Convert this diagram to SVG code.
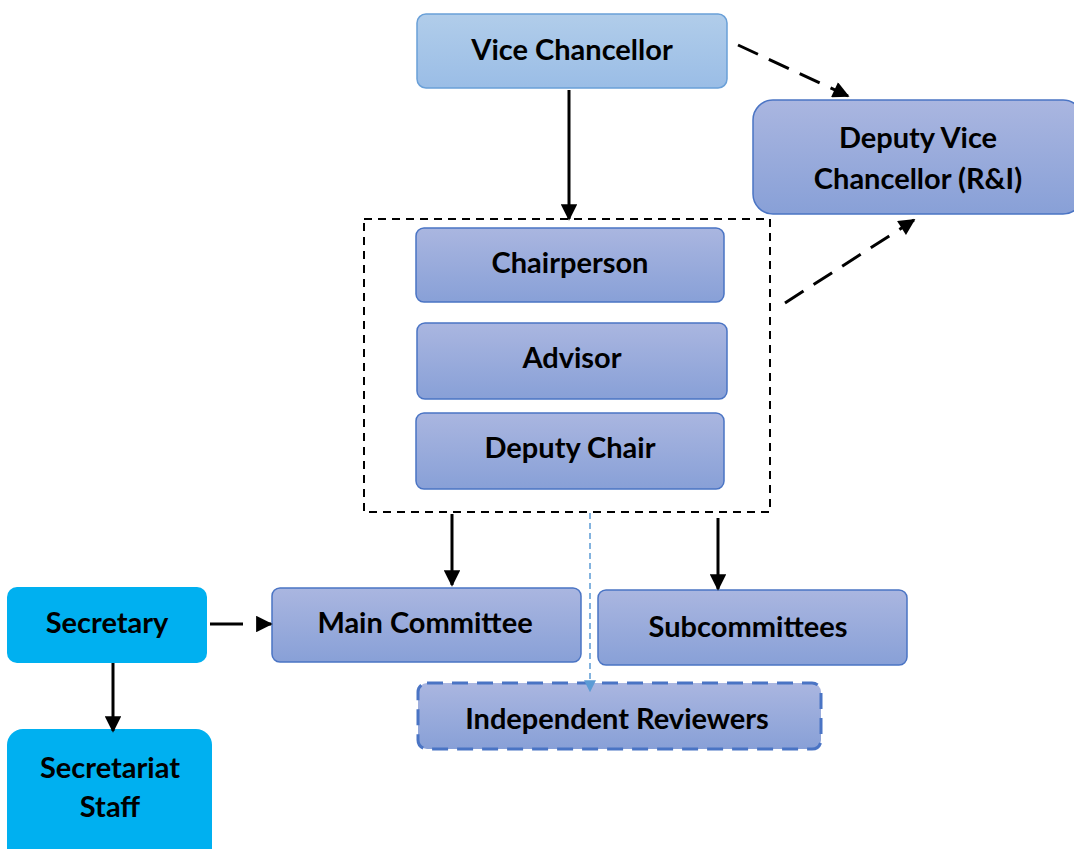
<svg xmlns="http://www.w3.org/2000/svg" width="1074" height="849" viewBox="0 0 1074 849">
<defs>
<linearGradient id="gVC" x1="0" y1="0" x2="0" y2="1"><stop offset="0" stop-color="#b1cdea"/><stop offset="1" stop-color="#9abde6"/></linearGradient>
<linearGradient id="gB" x1="0" y1="0" x2="0" y2="1"><stop offset="0" stop-color="#aab6e0"/><stop offset="1" stop-color="#88a0d7"/></linearGradient>
<marker id="ah" viewBox="0 0 10 10" refX="9" refY="5" markerWidth="6" markerHeight="5.5" orient="auto" markerUnits="strokeWidth"><path d="M0,0 L10,5 L0,10 z" fill="#000"/></marker>
<marker id="ahb" viewBox="0 0 10 10" refX="9" refY="5" markerWidth="8" markerHeight="8" orient="auto" markerUnits="strokeWidth"><path d="M0,0 L10,5 L0,10 z" fill="#5b9bd5"/></marker>
</defs>
<style>
text{font-family:"Lato","Liberation Sans",sans-serif;font-weight:bold;font-size:29px;fill:#000;text-anchor:middle}
.b{fill:url(#gB);stroke:#4a74c4;stroke-width:1.5}
.sec{fill:#00b0f0;stroke:none}
.c{stroke:#000;stroke-width:3;fill:none;marker-end:url(#ah)}
.cd{stroke:#000;stroke-width:3;fill:none;stroke-dasharray:22 12;marker-end:url(#ah)}
</style>
<g id="vice-chancellor"><rect x="417" y="14" width="310" height="74" rx="9" fill="url(#gVC)" stroke="#6aa0d8" stroke-width="1.5"/><text x="572" y="60">Vice Chancellor</text></g>
<g id="dvc"><rect x="753" y="100" width="330" height="114" rx="20" class="b"/><text x="918" y="148">Deputy Vice</text><text x="918" y="189">Chancellor (R&amp;I)</text></g>
<g id="group"><rect x="364" y="219" width="406" height="293" fill="none" stroke="#000" stroke-width="2" stroke-dasharray="8 6"/></g>
<g id="chairperson"><rect x="416" y="228" width="308" height="74" rx="8" class="b"/><text x="570" y="273">Chairperson</text></g>
<g id="advisor"><rect x="417" y="323" width="310" height="76" rx="8" class="b"/><text x="572" y="368">Advisor</text></g>
<g id="deputy-chair"><rect x="416" y="413" width="308" height="76" rx="8" class="b"/><text x="570" y="458">Deputy Chair</text></g>
<g id="main-committee"><rect x="272" y="588" width="309" height="74" rx="8" class="b"/><text x="425" y="633">Main Committee</text></g>
<g id="subcommittees"><rect x="598" y="590" width="309" height="75" rx="8" class="b"/><text x="748" y="637">Subcommittees</text></g>
<g id="independent-reviewers"><rect x="418" y="683" width="403" height="66" rx="9" fill="url(#gB)" stroke="#4a74c4" stroke-width="3" stroke-dasharray="16 9"/><text x="617" y="729">Independent Reviewers</text></g>
<g id="secretary"><rect x="7" y="587" width="200" height="76" rx="10" class="sec"/><text x="107" y="633">Secretary</text></g>
<g id="secretariat-staff"><rect x="7" y="729" width="205" height="140" rx="16" class="sec"/><text x="110" y="778">Secretariat</text><text x="110" y="817">Staff</text></g>
<g id="connectors">
<line x1="569" y1="90" x2="569" y2="219" class="c"/>
<line x1="738" y1="45" x2="848" y2="96" class="cd"/>
<line x1="785" y1="303" x2="914" y2="220" class="cd"/>
<line x1="452" y1="514" x2="452" y2="585" class="c"/>
<line x1="718" y1="518" x2="718" y2="589" class="c"/>
<line x1="590" y1="513" x2="590" y2="691" stroke="#5b9bd5" stroke-width="1.5" stroke-dasharray="6 4" marker-end="url(#ahb)"/>
<line x1="210" y1="624" x2="271" y2="624" stroke="#000" stroke-width="3" stroke-dasharray="33 20" marker-end="url(#ah)"/>
<line x1="113" y1="663" x2="113" y2="731" class="c"/>
</g>
</svg>
